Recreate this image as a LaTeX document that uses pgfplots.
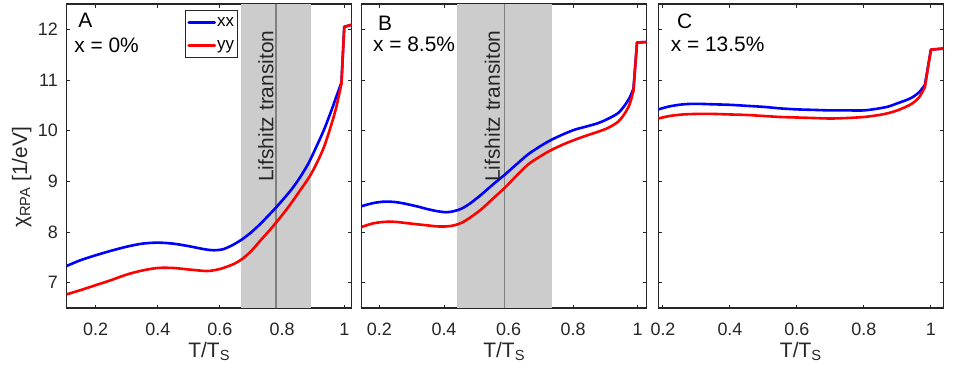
\documentclass[border=0pt]{standalone}
\usepackage{fontspec}
\setmainfont{Liberation Sans}
\usepackage{pgfplots}
\pgfplotsset{compat=1.18}

\definecolor{axgray}{rgb}{0.15,0.15,0.15}
\definecolor{shade}{rgb}{0.8,0.8,0.8}
\definecolor{vline}{rgb}{0.5,0.5,0.5}

\tikzset{
  curve/.style={line width=2.6bp, line cap=round, line join=round},
  lbl/.style={anchor=north west, inner sep=0pt, font=\fontsize{21}{24}\selectfont, text=black},
  lif/.style={rotate=90, anchor=base east, inner sep=0pt, font=\fontsize{21}{24}\selectfont, text=axgray},
}
\pgfplotsset{
  panel/.style={
    scale only axis, width=285bp, height=304bp,
    ymin=6.5, ymax=12.5,
    xtick={0.2,0.4,0.6,0.8,1}, ytick={7,8,9,10,11,12},
    tick align=inside, major tick length=3.5bp,
    axis line style={axgray, line width=1.2bp},
    every tick/.style={axgray, line width=1bp},
    tick label style={font=\fontsize{18}{20}\selectfont, text=axgray},
    /pgf/number format/assume math mode=true,
    xticklabel style={anchor=base, yshift=-27bp},
    yticklabel style={anchor=east, inner sep=0pt, xshift=-8.7bp},
    label style={font=\fontsize{21}{24}\selectfont, text=axgray},
    xlabel={T/T\textsubscript{S}},
    xlabel style={at={(axis description cs:0.5,-0.164)}, anchor=base},
  },
}

\begin{document}
\begin{tikzpicture}
\useasboundingbox (-66.7bp,-74bp) rectangle (887.3bp,308bp);

% ---------------- A
\begin{axis}[panel,
  xmin=0.107, xmax=1.024,
  ylabel={χ\textsubscript{RPA} [1/eV]},
  ylabel style={at={(axis description cs:-0.139,0.43)}, anchor=base},
  legend style={at={(0.415,0.98)}, anchor=north west, draw=axgray, line width=1bp,
    font=\fontsize{17}{19}\selectfont, inner xsep=2bp, inner ysep=3bp, row sep=5bp,
    nodes={inner sep=1bp, text height=12bp, text depth=4bp}},
  legend cell align=left,
  legend image code/.code={\draw[#1] (0bp,0bp) -- (26bp,0bp);},
]
\addplot[fill=shade, draw=none, forget plot] coordinates {(0.668,6.5) (0.893,6.5) (0.893,12.5) (0.668,12.5)};
\addplot[vline, line width=1.5bp, forget plot] coordinates {(0.78,6.5) (0.78,12.5)};
\addplot[blue, curve, smooth] coordinates {(0.107,7.33) (0.15,7.44) (0.2,7.54) (0.25,7.63) (0.3,7.71) (0.35,7.77) (0.4,7.79) (0.45,7.77) (0.5,7.72) (0.55,7.66) (0.58,7.64) (0.61,7.66) (0.64,7.74) (0.67,7.85) (0.7,7.99) (0.73,8.16) (0.76,8.35) (0.78,8.48) (0.81,8.69) (0.834,8.87) (0.86,9.1) (0.887,9.38) (0.91,9.68) (0.935,10.02) (0.96,10.42) (0.975,10.68) (0.991,10.95)};
\addlegendentry{xx}
\addplot[red, curve, smooth] coordinates {(0.107,6.77) (0.15,6.85) (0.2,6.95) (0.25,7.05) (0.3,7.16) (0.35,7.24) (0.4,7.29) (0.45,7.29) (0.5,7.26) (0.56,7.23) (0.6,7.27) (0.62,7.31) (0.645,7.37) (0.67,7.46) (0.7,7.62) (0.73,7.83) (0.755,8.0) (0.78,8.18) (0.81,8.41) (0.834,8.61) (0.86,8.84) (0.887,9.08) (0.91,9.34) (0.935,9.68) (0.96,10.15) (0.975,10.48) (0.991,10.93)};
\addlegendentry{yy}
\addplot[blue, curve, forget plot] coordinates {(0.991,10.95) (1.0,12.05) (1.024,12.09)};
\addplot[red, curve, forget plot] coordinates {(0.991,10.93) (1.0,12.05) (1.024,12.09)};
\node[lif] at (axis cs:0.772,11.98) {Lifshitz transiton};
\node[lbl] at (rel axis cs:0.04,0.97) {A};
\node[lbl] at (rel axis cs:0.026,0.889) {x = 0\%};
\end{axis}

% ---------------- B
\begin{axis}[panel, at={(295bp,0)}, anchor=south west,
  xmin=0.145, xmax=1.028, yticklabels={}]
\addplot[fill=shade, draw=none] coordinates {(0.441,6.5) (0.736,6.5) (0.736,12.5) (0.441,12.5)};
\addplot[vline, line width=1.5bp] coordinates {(0.588,6.5) (0.588,12.5)};
\addplot[blue, curve, smooth] coordinates {(0.145,8.51) (0.18,8.57) (0.216,8.60) (0.25,8.59) (0.278,8.56) (0.32,8.50) (0.35,8.45) (0.38,8.41) (0.407,8.39) (0.43,8.41) (0.454,8.46) (0.48,8.56) (0.516,8.74) (0.55,8.93) (0.588,9.13) (0.62,9.31) (0.66,9.53) (0.7,9.70) (0.733,9.82) (0.77,9.93) (0.805,10.02) (0.84,10.08) (0.878,10.15) (0.91,10.24) (0.94,10.35) (0.96,10.5) (0.975,10.65) (0.987,10.83)};
\addplot[red, curve, smooth] coordinates {(0.145,8.10) (0.18,8.17) (0.216,8.20) (0.25,8.20) (0.278,8.18) (0.32,8.15) (0.35,8.13) (0.38,8.11) (0.407,8.11) (0.43,8.13) (0.454,8.18) (0.48,8.28) (0.516,8.45) (0.55,8.65) (0.588,8.87) (0.62,9.08) (0.66,9.33) (0.7,9.50) (0.733,9.62) (0.77,9.73) (0.805,9.82) (0.84,9.90) (0.878,9.98) (0.91,10.06) (0.94,10.18) (0.96,10.34) (0.975,10.52) (0.987,10.79)};
\addplot[blue, curve] coordinates {(0.987,10.83) (0.998,11.74) (1.028,11.75)};
\addplot[red, curve] coordinates {(0.987,10.79) (0.998,11.74) (1.028,11.75)};
\node[lif] at (axis cs:0.573,11.98) {Lifshitz transiton};
\node[lbl] at (rel axis cs:0.057,0.96) {B};
\node[lbl] at (rel axis cs:0.039,0.892) {x = 8.5\%};
\end{axis}

% ---------------- C
\begin{axis}[panel, at={(591.6bp,0)}, anchor=south west,
  xmin=0.186, xmax=1.037, yticklabels={}]
\addplot[blue, curve, smooth] coordinates {(0.186,10.42) (0.22,10.48) (0.26,10.52) (0.3,10.53) (0.35,10.52) (0.4,10.51) (0.45,10.49) (0.5,10.47) (0.55,10.44) (0.6,10.42) (0.65,10.41) (0.7,10.40) (0.75,10.40) (0.8,10.40) (0.846,10.44) (0.875,10.48) (0.9,10.54) (0.925,10.6) (0.945,10.66) (0.965,10.76) (0.982,10.90)};
\addplot[red, curve, smooth] coordinates {(0.186,10.24) (0.22,10.29) (0.26,10.32) (0.3,10.33) (0.35,10.33) (0.4,10.32) (0.45,10.31) (0.5,10.29) (0.55,10.27) (0.6,10.26) (0.65,10.25) (0.7,10.24) (0.75,10.25) (0.8,10.27) (0.846,10.31) (0.875,10.35) (0.9,10.40) (0.925,10.47) (0.945,10.54) (0.965,10.66) (0.982,10.86)};
\addplot[blue, curve] coordinates {(0.982,10.90) (1.0,11.60) (1.037,11.62)};
\addplot[red, curve] coordinates {(0.982,10.86) (1.0,11.60) (1.037,11.62)};
\node[lbl] at (rel axis cs:0.065,0.967) {C};
\node[lbl] at (rel axis cs:0.043,0.892) {x = 13.5\%};
\end{axis}
\end{tikzpicture}
\end{document}
